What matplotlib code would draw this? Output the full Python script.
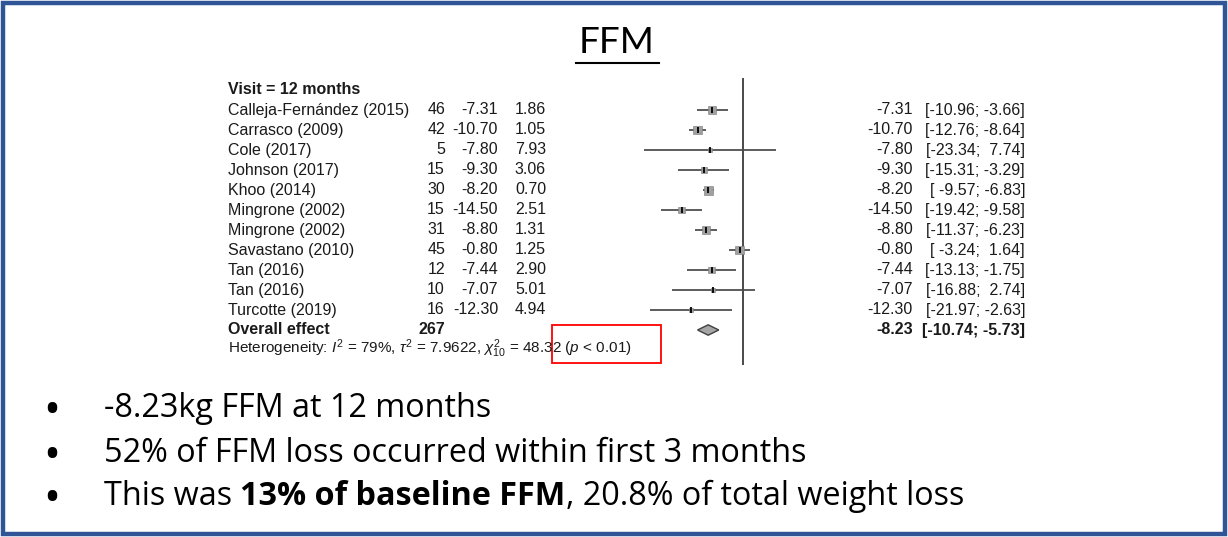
""" FFM forest plot slide: 12-month fat-free mass change per study """

import numpy as np
import matplotlib
matplotlib.use('Agg')
from matplotlib import pyplot as plt
from matplotlib.patches import Rectangle, Polygon
from matplotlib.transforms import blended_transform_factory

plt.rcParams['font.family'] = ['Liberation Sans', 'DejaVu Sans']
plt.rcParams['mathtext.fontset'] = 'custom'
plt.rcParams['mathtext.rm'] = 'Liberation Sans'
plt.rcParams['mathtext.it'] = 'Liberation Sans:italic'
plt.rcParams['mathtext.bf'] = 'Liberation Sans:bold'

# Study-level data
studies = ['Calleja-Fernández (2015)', 'Carrasco (2009)', 'Cole (2017)', 'Johnson (2017)',
           'Khoo (2014)', 'Mingrone (2002)', 'Mingrone (2002)', 'Savastano (2010)',
           'Tan (2016)', 'Tan (2016)', 'Turcotte (2019)']
n_total = [46, 42, 5, 15, 30, 15, 31, 45, 12, 10, 16]
mean_diff = [-7.31, -10.70, -7.80, -9.30, -8.20, -14.50, -8.80, -0.80, -7.44, -7.07, -12.30]
se_diff = [1.86, 1.05, 7.93, 3.06, 0.70, 2.51, 1.31, 1.25, 2.90, 5.01, 4.94]
ci_low = [-10.96, -12.76, -23.34, -15.31, -9.57, -19.42, -11.37, -3.24, -13.13, -16.88, -21.97]
ci_high = [-3.66, -8.64, 7.74, -3.29, -6.83, -9.58, -6.23, 1.64, -1.75, 2.74, -2.63]

overall_n = 267
overall_md = -8.23
overall_ci = (-10.74, -5.73)
tau2 = 7.9622

bullets = ['-8.23kg FFM at 12 months',
           '52% of FFM loss occurred within first 3 months']
bullet3_parts = [('This was ', 'normal'), ('13% of baseline FFM', 'bold'),
                 (', 20.8% of total weight loss', 'normal')]

W, H = 1228, 537
BLUE = '#2F5597'
FS = 11.5          # forest text size
TITLE_FONT = 'Lato'
BULLET_FONT = 'Open Sans'


def place_parts(bg, renderer, x, y, parts, size):
    """ Lay out mixed-weight text pieces left to right, return the pieces and end x. """
    inv = bg.transData.inverted()
    texts = []
    for txt, weight in parts:
        t = bg.text(x, y, txt, family=BULLET_FONT, fontsize=size,
                    fontweight=weight, ha='left', va='baseline')
        bb = t.get_window_extent(renderer)
        x = inv.transform((bb.x1, bb.y0))[0]
        texts.append(t)
    return texts, x


def main():
    fig = plt.figure(figsize=(W / 100, H / 100), dpi=100)
    fig.patch.set_facecolor('white')

    # Pixel-space axes for the slide furniture
    bg = fig.add_axes([0, 0, 1, 1])
    bg.set_xlim(0, W)
    bg.set_ylim(H, 0)
    bg.axis('off')

    # Forest axes: x in effect units (0 at px 743, 4.23 px/unit), y in rows (20 px each)
    ax = fig.add_axes([0, 0, 1, 1], facecolor='none')
    zero_px, ppu = 743, 4.23
    row0_px, row_h = 110, 20
    ax.set_xlim(-zero_px / ppu, (W - zero_px) / ppu)
    ax.set_ylim((H - row0_px) / row_h, -row0_px / row_h)
    ax.axis('off')

    # Slide frame
    bg.add_patch(Rectangle((3, 3), W - 6, H - 6, fill=False, edgecolor=BLUE, lw=3.2))

    # Title with underline
    bg.text(617, 53, 'FFM', family=TITLE_FONT, fontsize=26.5, ha='center',
            va='baseline', color='black')
    bg.plot([576, 659], [63, 63], color='black', lw=1.5)

    # Forest rows
    rows = np.arange(len(studies))
    weights = 1.0 / (np.array(se_diff) ** 2 + tau2)
    side_px = 9 * np.sqrt(weights / weights.max())
    ax.hlines(rows, ci_low, ci_high, color='#303030', lw=1.1)
    ax.scatter(mean_diff, rows, marker='s', s=(side_px * 0.72) ** 2,
               color='#A0A0A0', edgecolors='#7A7A7A', linewidths=0.4, zorder=3)
    ax.plot(mean_diff, rows, ls='none', marker='|', ms=5, mew=1.3,
            color='black', zorder=4)

    ov_row = len(studies)
    lo, hi = overall_ci
    ax.add_patch(Polygon([[lo, ov_row], [overall_md, ov_row - 0.26],
                          [hi, ov_row], [overall_md, ov_row + 0.26]],
                         closed=True, facecolor='#A6A6A6', edgecolor='#404040', lw=1))
    ax.vlines(0, (78 - row0_px) / row_h, (365 - row0_px) / row_h,
              color='#4A4A4A', lw=1.4)

    # Text columns (x in pixels, y in rows)
    tr = blended_transform_factory(bg.transData, ax.transData)
    kw = dict(transform=tr, fontsize=FS, va='center', color='#1A1A1A')
    ax.text(228, -1, 'Visit = 12 months', ha='left', fontweight='bold', **kw)
    for r, name, n, md, se, cl, ch in zip(rows, studies, n_total, mean_diff,
                                          se_diff, ci_low, ci_high):
        ax.text(228, r, name, ha='left', **kw)
        ax.text(445, r, f'{n}', ha='right', **kw)
        ax.text(498, r, f'{md:.2f}', ha='right', **kw)
        ax.text(546, r, f'{se:.2f}', ha='right', **kw)
        ax.text(913, r, f'{md:.2f}', ha='right', **kw)
        ax.text(1025, r, f'[{cl:6.2f}; {ch:5.2f}]', ha='right', **kw)
    ax.text(228, ov_row, 'Overall effect', ha='left', fontweight='bold', **kw)
    ax.text(445, ov_row, f'{overall_n}', ha='right', fontweight='bold', **kw)
    ax.text(913, ov_row, f'{overall_md:.2f}', ha='right', fontweight='bold', **kw)
    ax.text(1025, ov_row, f'[{lo:6.2f}; {hi:5.2f}]', ha='right', fontweight='bold', **kw)
    ax.text(228, ov_row + 0.95,
            r'Heterogeneity: $I^2$ = 79%, $\tau^2$ = 7.9622, $\chi^2_{10}$ = 48.32 ($p$ < 0.01)',
            ha='left', transform=tr, fontsize=FS - 0.5, va='center', color='#1A1A1A')

    # Highlight box around the p-value
    bg.add_patch(Rectangle((552, 325), 109, 38, fill=False, edgecolor='#FF0000', lw=1.3))

    # Bullet points: size the font so the last line spans the same width as the slide
    fig.canvas.draw()
    renderer = fig.canvas.get_renderer()
    baselines = [417, 462, 505]
    trial, end_x = place_parts(bg, renderer, 104, baselines[2], bullet3_parts, 20)
    for t in trial:
        t.remove()
    bfs = 20 * (963 - 104) / (end_x - 104)
    place_parts(bg, renderer, 104, baselines[2], bullet3_parts, bfs)

    for y in baselines:
        bg.text(52, y + 7, '•', family=BULLET_FONT, fontsize=bfs * 1.4,
                ha='center', va='baseline')
    for y, txt in zip(baselines[:2], bullets):
        bg.text(104, y, txt, family=BULLET_FONT, fontsize=bfs, ha='left', va='baseline')

    fig.savefig('out.png', dpi=100)


if __name__ == '__main__':
    main()
